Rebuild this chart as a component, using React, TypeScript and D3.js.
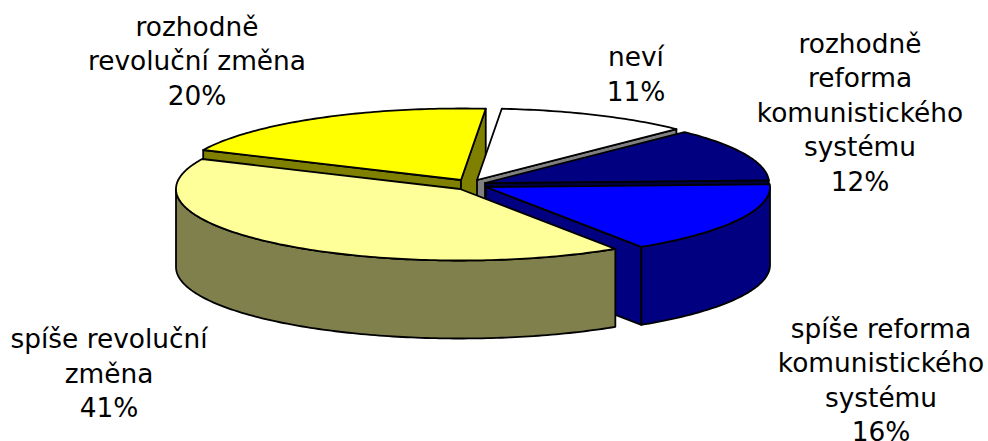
import * as d3 from 'd3'

// slices clockwise from the top, as in the source chart
const CATEGORIES = [
  ['neví'],
  ['rozhodně', 'reforma', 'komunistického', 'systému'],
  ['spíše reforma', 'komunistického', 'systému'],
  ['spíše revoluční', 'změna'],
  ['rozhodně', 'revoluční změna'],
]
// the labels show these rounded
const VALUES = [11, 12, 16.4, 41.1, 19.5]

const TOP_FILLS = ['#ffffff', '#000080', '#0000ff', '#ffff99', '#ffff00']
const SIDE_FILLS = ['#808080', '#000040', '#000080', '#80804d', '#808000']

// exploded slice centres
const CENTERS: [number, number][] = [[477, 180], [485, 183], [486, 187], [460, 189], [461, 180]]
// label anchor: centre x and first baseline
const LABEL_POS: [number, number][] = [[636, 66], [860, 52.5], [881, 337.5], [109, 348], [197, 35.5]]
const LINE_HEIGHT = 34.6

const WIDTH = 988
const HEIGHT = 441
const RX = 284
const RY = 71.5
const DEPTH = 78
const START = (5 * Math.PI) / 180
const FONT = '"DejaVu Sans", Verdana, sans-serif'

const line = d3.line()

export default function App() {
  const arcs = d3.pie<number>().sort(null).startAngle(START).endAngle(START + 2 * Math.PI)(VALUES)

  const rimPoint = (i: number, a: number, dy = 0): [number, number] => [
    CENTERS[i][0] + RX * Math.sin(a),
    CENTERS[i][1] - RY * Math.cos(a) + dy,
  ]
  const rim = (i: number, a0: number, a1: number, dy = 0) => {
    const n = Math.max(2, Math.ceil((a1 - a0) * 60))
    return d3.range(n + 1).map(k => rimPoint(i, a0 + ((a1 - a0) * k) / n, dy))
  }
  const wall = (i: number, a: number) => {
    const apex = CENTERS[i]
    return (
      line([apex, rimPoint(i, a), rimPoint(i, a, DEPTH), [apex[0], apex[1] + DEPTH]]) + 'Z'
    )
  }

  // painted back to front
  const order = [4, 0, 1, 2, 3]

  return (
    <svg
      width={WIDTH}
      height={HEIGHT}
      style={{ position: 'absolute', left: 0, top: 0 }}
    >
      {order.map(i => {
        const { startAngle: a0, endAngle: a1 } = arcs[i]
        const from = Math.max(a0, Math.PI / 2)
        const to = Math.min(a1, (3 * Math.PI) / 2)
        const stroke = { stroke: '#000', strokeWidth: 1.8, strokeLinejoin: 'round' as const }
        return (
          <g key={i}>
            {Math.sin(a0) < 0 && <path d={wall(i, a0)} fill={SIDE_FILLS[i]} {...stroke} />}
            {Math.sin(a1) > 0 && <path d={wall(i, a1)} fill={SIDE_FILLS[i]} {...stroke} />}
            {from < to && (
              <path
                d={line([...rim(i, from, to), ...rim(i, from, to, DEPTH).reverse()]) + 'Z'}
                fill={SIDE_FILLS[i]}
                {...stroke}
              />
            )}
            <path
              d={line([CENTERS[i], ...rim(i, a0, a1)]) + 'Z'}
              fill={TOP_FILLS[i]}
              {...stroke}
            />
          </g>
        )
      })}
      {CATEGORIES.map((lines, i) => (
        <text
          key={i}
          textAnchor="middle"
          fontFamily={FONT}
          fontSize={26.4}
          fill="#000"
        >
          {[...lines, `${Math.round(VALUES[i])}%`].map((t, k) => (
            <tspan key={k} x={LABEL_POS[i][0]} y={LABEL_POS[i][1] + k * LINE_HEIGHT}>
              {t}
            </tspan>
          ))}
        </text>
      ))}
    </svg>
  )
}
